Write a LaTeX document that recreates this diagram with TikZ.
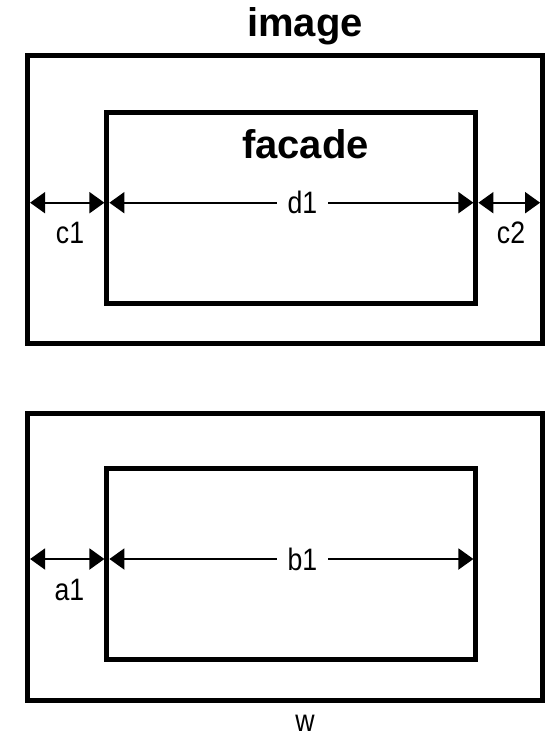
\documentclass[tikz,border=0pt]{standalone}
\usepackage{fontspec}
\setmainfont{Liberation Sans}
\newfontfamily\narrowsans{Liberation Sans}[FakeStretch=0.86]
\usetikzlibrary{arrows.meta,positioning}

\begin{document}
\begin{tikzpicture}[x=1pt,y=-1pt,>={Triangle[length=15pt,width=21pt]}]
\tikzstyle{frame}=[draw,line width=5pt,outer sep=0pt,inner sep=0pt]
\tikzstyle{dim}=[<->,line width=2pt,shorten <=2.5pt,shorten >=2.5pt]
\tikzstyle{title}=[font=\fontsize{40}{46}\selectfont\bfseries,anchor=base,inner sep=0pt]
\tikzstyle{lbl}=[font=\narrowsans\fontsize{31}{36}\selectfont,anchor=base,inner sep=0pt]
\tikzstyle{gap}=[font=\narrowsans\fontsize{31}{36}\selectfont,fill=white,inner xsep=11pt,inner ysep=2pt]
\useasboundingbox (0,0) rectangle (552,738);
% upper pair
\node[frame,minimum width=515pt,minimum height=287pt] (img) at (285.1,199.5) {};
\node[frame,minimum width=369pt,minimum height=191pt] (fac) at (291.4,207.7) {};
\node[title] (imgtxt) at (305,37) {image};
\node[title] (factxt) at (305.5,159) {facade};
\coordinate (rowA) at (0,202.7);
\draw[dim] (img.west |- rowA) -- (fac.west |- rowA);
\draw[dim] (fac.west |- rowA) -- node[gap,pos=.53] (d) {d1} (fac.east |- rowA);
\draw[dim] (fac.east |- rowA) -- (img.east |- rowA);
\node[lbl] (c1) at (70,243) {c1};
\node[lbl] (c2) at (511,243) {c2};
% lower pair
\node[frame,minimum width=515pt,minimum height=287pt] (img2) at (285.1,556.5) {};
\node[frame,minimum width=369pt,minimum height=191pt] (fac2) at (291.4,564.3) {};
\coordinate (rowB) at (0,559);
\draw[dim] (img2.west |- rowB) -- (fac2.west |- rowB);
\draw[dim] (fac2.west |- rowB) -- node[gap,pos=.53] (b) {b1} (fac2.east |- rowB);
\node[lbl] (a1) at (69.5,600) {a1};
\node[lbl] (w) at (305,731) {w};
\end{tikzpicture}
\end{document}
